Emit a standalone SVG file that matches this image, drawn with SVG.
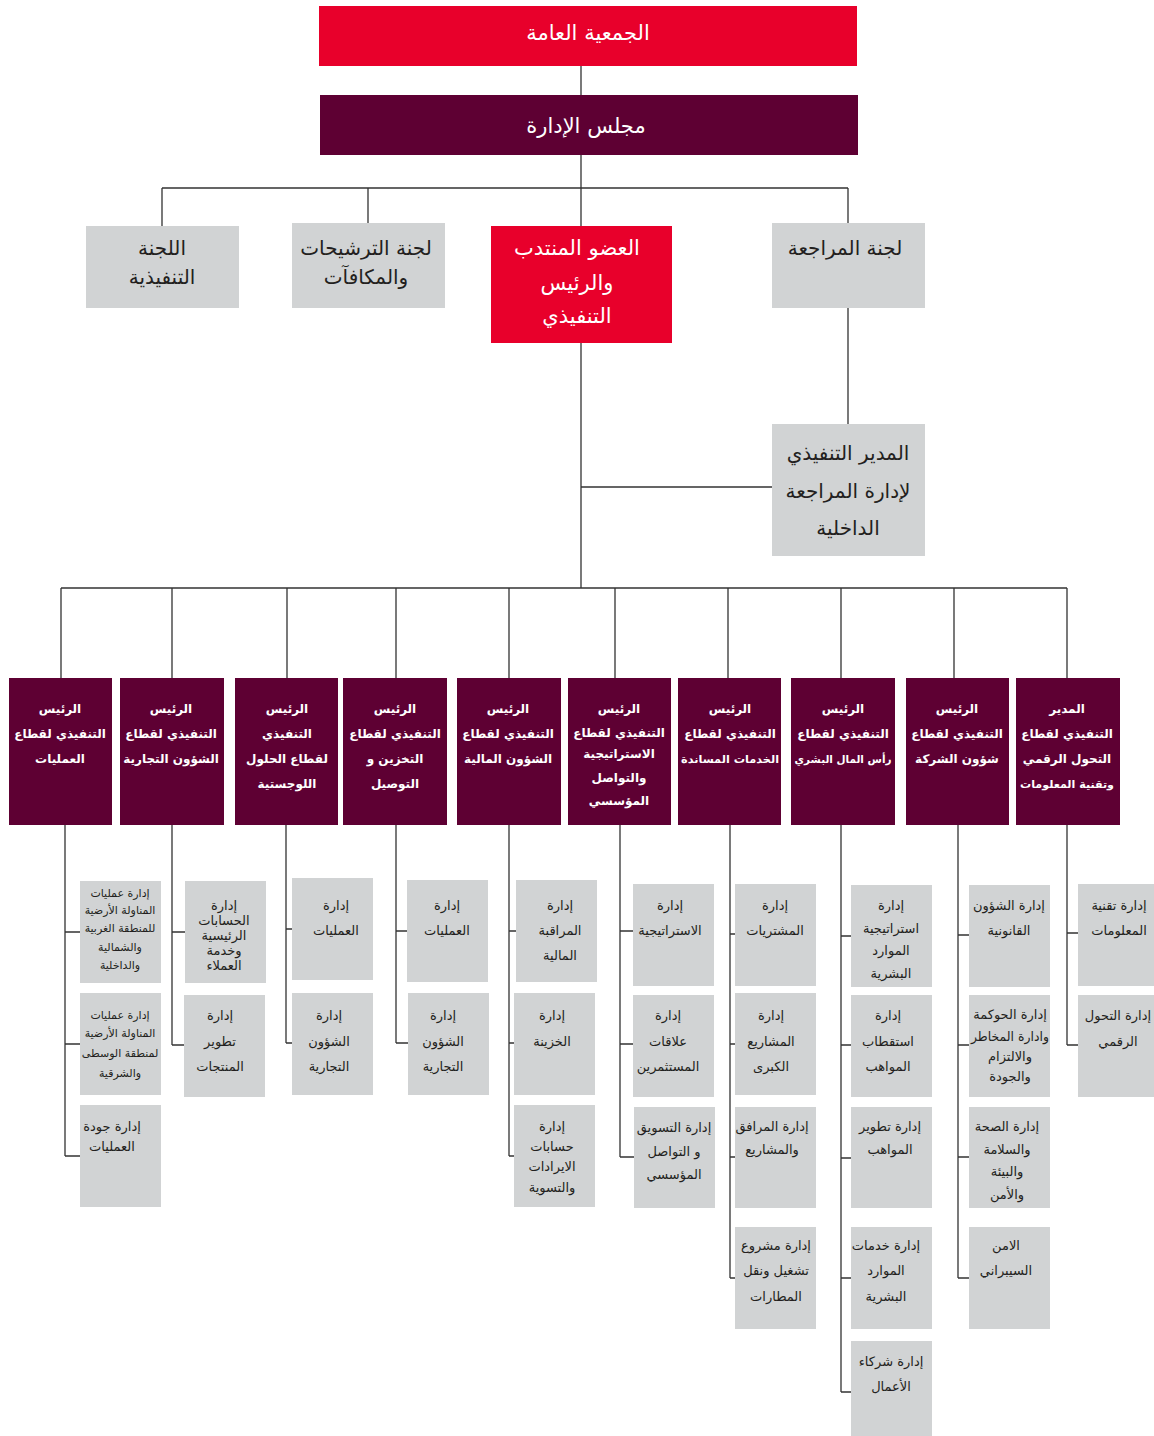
<svg xmlns="http://www.w3.org/2000/svg" width="1154" height="1436" viewBox="0 0 1154 1436">
<style>
text{font-family:"DejaVu Sans","Noto Sans",sans-serif;text-anchor:middle;direction:rtl}
.red{fill:#e8002b}.mar{fill:#5e0033}.gry{fill:#d1d3d4}
.tw{fill:#ffffff;font-size:21px}
.tg{fill:#231f20;font-size:20px}
.te{fill:#ffffff;font-size:12px;font-weight:bold}
.sm{font-size:10.8px}
.ts{fill:#231f20;font-size:13px}
.tss{fill:#231f20;font-size:11px}
.ln{stroke:#333333;stroke-width:1.3;fill:none}
</style>
<g id="connectors" class="ln">
<path d="M581 66V95M581 155V188M162 188H848M162 188V226M368 188V223M581 188V226M848 188V223"/>
<path d="M848 308V424M581 343V588M581 487H772"/>
<path d="M61 588H1067M61 588V678M172 588V678M287 588V678M396 588V678M509 588V678M615 588V678M728 588V678M841 588V678M954 588V678M1067 588V678"/>
<path d="M65 825V1156M65 932H80M65 1044H80M65 1156H80"/>
<path d="M172 825V1045M172 932H185M172 1045H184"/>
<path d="M286 825V1043M286 929H292M286 1043H292"/>
<path d="M396 825V1043M396 931H407M396 1043H408"/>
<path d="M509 825V1156M509 931H516M509 1043H514M509 1156H514"/>
<path d="M620 825V1157M620 931H633M620 1044H633M620 1157H634"/>
<path d="M730 825V1278M730 934H735M730 1044H735M730 1157H735M730 1278H735"/>
<path d="M841 825V1392M841 936H851M841 1045H851M841 1158H851M841 1278H851M841 1392H851"/>
<path d="M958 825V1278M958 935H969M958 1045H969M958 1157H969M958 1278H969"/>
<path d="M1067 825V1045M1067 933H1078M1067 1045H1078"/>
</g>
<g id="general-assembly"><rect class="red" x="319" y="6" width="538" height="60"/><text class="tw" x="588" y="40">الجمعية العامة</text></g>
<g id="board"><rect class="mar" x="320" y="95" width="538" height="60"/><text class="tw" x="586" y="133">مجلس الإدارة</text></g>
<g id="exec-committee"><rect class="gry" x="86" y="226" width="153" height="82"/><text class="tg" x="162" y="255">اللجنة</text><text class="tg" x="162" y="284">التنفيذية</text></g>
<g id="nominations"><rect class="gry" x="292" y="223" width="153" height="85"/><text class="tg" x="366" y="255">لجنة الترشيحات</text><text class="tg" x="366" y="284">والمكافآت</text></g>
<g id="ceo"><rect class="red" x="491" y="226" width="181" height="117"/><text class="tw" x="577" y="255">العضو المنتدب</text><text class="tw" x="577" y="290">والرئيس</text><text class="tw" x="577" y="323">التنفيذي</text></g>
<g id="audit"><rect class="gry" x="772" y="223" width="153" height="85"/><text class="tg" x="845" y="255">لجنة المراجعة</text></g>
<g id="internal-audit"><rect class="gry" x="772" y="424" width="153" height="132"/><text class="tg" x="848" y="460">المدير التنفيذي</text><text class="tg" x="848" y="498">لإدارة المراجعة</text><text class="tg" x="848" y="535">الداخلية</text></g>

<g id="e1"><rect class="mar" x="9" y="678" width="103" height="147"/><text class="te" x="60" y="713">الرئيس</text><text class="te" x="60" y="738">التنفيذي لقطاع</text><text class="te" x="60" y="763">العمليات</text></g>
<g id="e2"><rect class="mar" x="120" y="678" width="104" height="147"/><text class="te" x="171" y="713">الرئيس</text><text class="te" x="171" y="738">التنفيذي لقطاع</text><text class="te" x="171" y="763">الشؤون التجارية</text></g>
<g id="e3"><rect class="mar" x="235" y="678" width="103" height="147"/><text class="te" x="287" y="713">الرئيس</text><text class="te" x="287" y="738">التنفيذي</text><text class="te" x="287" y="763">لقطاع الحلول</text><text class="te" x="287" y="788">اللوجستية</text></g>
<g id="e4"><rect class="mar" x="343" y="678" width="104" height="147"/><text class="te" x="395" y="713">الرئيس</text><text class="te" x="395" y="738">التنفيذي لقطاع</text><text class="te" x="395" y="763">التخزين و</text><text class="te" x="395" y="788">التوصيل</text></g>
<g id="e5"><rect class="mar" x="457" y="678" width="104" height="147"/><text class="te" x="508" y="713">الرئيس</text><text class="te" x="508" y="738">التنفيذي لقطاع</text><text class="te" x="508" y="763">الشؤون المالية</text></g>
<g id="e6"><rect class="mar" x="568" y="678" width="103" height="147"/><text class="te" x="619" y="713">الرئيس</text><text class="te" x="619" y="737">التنفيذي لقطاع</text><text class="te" x="619" y="758">الاستراتيجية</text><text class="te" x="619" y="782">والتواصل</text><text class="te" x="619" y="805">المؤسسي</text></g>
<g id="e7"><rect class="mar" x="678" y="678" width="103" height="147"/><text class="te" x="730" y="713">الرئيس</text><text class="te" x="730" y="738">التنفيذي لقطاع</text><text class="te sm" x="730" y="763" textLength="98" lengthAdjust="spacingAndGlyphs">الخدمات المساندة</text></g>
<g id="e8"><rect class="mar" x="791" y="678" width="104" height="147"/><text class="te" x="843" y="713">الرئيس</text><text class="te" x="843" y="738">التنفيذي لقطاع</text><text class="te sm" x="843" y="763" textLength="97" lengthAdjust="spacingAndGlyphs">رأس المال البشري</text></g>
<g id="e9"><rect class="mar" x="906" y="678" width="103" height="147"/><text class="te" x="957" y="713">الرئيس</text><text class="te" x="957" y="738">التنفيذي لقطاع</text><text class="te" x="957" y="763">شؤون الشركة</text></g>
<g id="e10"><rect class="mar" x="1016" y="678" width="104" height="147"/><text class="te" x="1067" y="713">المدير</text><text class="te" x="1067" y="738">التنفيذي لقطاع</text><text class="te" x="1067" y="763">التحول الرقمي</text><text class="te sm" x="1067" y="788" textLength="94" lengthAdjust="spacingAndGlyphs">وتقنية المعلومات</text></g>

<g id="d1a"><rect class="gry" x="80" y="881" width="81" height="102"/><text class="tss" x="120" y="897">إدارة عمليات</text><text class="tss" x="120" y="914">المناولة الأرضية</text><text class="tss" x="120" y="932">للمنطقة الغربية</text><text class="tss" x="120" y="951">والشمالية</text><text class="tss" x="120" y="969">والداخلية</text></g>
<g id="d1b"><rect class="gry" x="80" y="993" width="81" height="102"/><text class="tss" x="120" y="1019">إدارة عمليات</text><text class="tss" x="120" y="1037">المناولة الأرضية</text><text class="tss" x="120" y="1057">لمنطقة الوسطى</text><text class="tss" x="120" y="1077">والشرقية</text></g>
<g id="d1c"><rect class="gry" x="80" y="1105" width="81" height="102"/><text class="ts" x="112" y="1131">إدارة جودة</text><text class="ts" x="112" y="1151">العمليات</text></g>
<g id="d2a"><rect class="gry" x="185" y="881" width="81" height="102"/><text class="ts" x="224" y="910">إدارة</text><text class="ts" x="224" y="925">الحسابات</text><text class="ts" x="224" y="940">الرئيسية</text><text class="ts" x="224" y="955">وخدمة</text><text class="ts" x="224" y="970">العملاء</text></g>
<g id="d2b"><rect class="gry" x="184" y="995" width="81" height="102"/><text class="ts" x="220" y="1020">إدارة</text><text class="ts" x="220" y="1046">تطوير</text><text class="ts" x="220" y="1071">المنتجات</text></g>
<g id="d3a"><rect class="gry" x="292" y="878" width="81" height="102"/><text class="ts" x="336" y="910">إدارة</text><text class="ts" x="336" y="935">العمليات</text></g>
<g id="d3b"><rect class="gry" x="292" y="993" width="81" height="102"/><text class="ts" x="329" y="1020">إدارة</text><text class="ts" x="329" y="1046">الشؤون</text><text class="ts" x="329" y="1071">التجارية</text></g>
<g id="d4a"><rect class="gry" x="407" y="880" width="81" height="102"/><text class="ts" x="447" y="910">إدارة</text><text class="ts" x="447" y="935">العمليات</text></g>
<g id="d4b"><rect class="gry" x="408" y="993" width="81" height="102"/><text class="ts" x="443" y="1020">إدارة</text><text class="ts" x="443" y="1046">الشؤون</text><text class="ts" x="443" y="1071">التجارية</text></g>
<g id="d5a"><rect class="gry" x="516" y="880" width="81" height="102"/><text class="ts" x="560" y="910">إدارة</text><text class="ts" x="560" y="935">المراقبة</text><text class="ts" x="560" y="960">المالية</text></g>
<g id="d5b"><rect class="gry" x="514" y="993" width="81" height="102"/><text class="ts" x="552" y="1020">إدارة</text><text class="ts" x="552" y="1046">الخزينة</text></g>
<g id="d5c"><rect class="gry" x="514" y="1105" width="81" height="102"/><text class="ts" x="552" y="1131">إدارة</text><text class="ts" x="552" y="1151">حسابات</text><text class="ts" x="552" y="1171">الايرادات</text><text class="ts" x="552" y="1192">والتسوية</text></g>
<g id="d6a"><rect class="gry" x="633" y="884" width="81" height="102"/><text class="ts" x="670" y="910">إدارة</text><text class="ts" x="670" y="935">الاستراتيجية</text></g>
<g id="d6b"><rect class="gry" x="633" y="995" width="81" height="102"/><text class="ts" x="668" y="1020">إدارة</text><text class="ts" x="668" y="1046">علاقات</text><text class="ts" x="668" y="1071">المستثمرين</text></g>
<g id="d6c"><rect class="gry" x="634" y="1107" width="81" height="101"/><text class="ts" x="674" y="1132">إدارة التسويق</text><text class="ts" x="674" y="1156">و التواصل</text><text class="ts" x="674" y="1179">المؤسسي</text></g>
<g id="d7a"><rect class="gry" x="735" y="884" width="81" height="102"/><text class="ts" x="775" y="910">إدارة</text><text class="ts" x="775" y="935">المشتريات</text></g>
<g id="d7b"><rect class="gry" x="735" y="993" width="81" height="102"/><text class="ts" x="771" y="1020">إدارة</text><text class="ts" x="771" y="1046">المشاريع</text><text class="ts" x="771" y="1071">الكبرى</text></g>
<g id="d7c"><rect class="gry" x="735" y="1107" width="81" height="101"/><text class="ts" x="772" y="1131">إدارة المرافق</text><text class="ts" x="772" y="1154">والمشاريع</text></g>
<g id="d7d"><rect class="gry" x="735" y="1227" width="81" height="102"/><text class="ts" x="776" y="1250">إدارة مشروع</text><text class="ts" x="776" y="1275">تشغيل ونقل</text><text class="ts" x="776" y="1301">المطارات</text></g>
<g id="d8a"><rect class="gry" x="851" y="885" width="81" height="102"/><text class="ts" x="891" y="910">إدارة</text><text class="ts" x="891" y="933">استراتيجية</text><text class="ts" x="891" y="955">الموارد</text><text class="ts" x="891" y="978">البشرية</text></g>
<g id="d8b"><rect class="gry" x="851" y="995" width="81" height="102"/><text class="ts" x="888" y="1020">إدارة</text><text class="ts" x="888" y="1046">استقطاب</text><text class="ts" x="888" y="1071">المواهب</text></g>
<g id="d8c"><rect class="gry" x="851" y="1107" width="81" height="101"/><text class="ts" x="890" y="1131">إدارة تطوير</text><text class="ts" x="890" y="1154">المواهب</text></g>
<g id="d8d"><rect class="gry" x="851" y="1227" width="81" height="102"/><text class="ts" x="886" y="1250">إدارة خدمات</text><text class="ts" x="886" y="1275">الموارد</text><text class="ts" x="886" y="1301">البشرية</text></g>
<g id="d8e"><rect class="gry" x="851" y="1341" width="81" height="95"/><text class="ts" x="891" y="1366">إدارة شركاء</text><text class="ts" x="891" y="1391">الأعمال</text></g>
<g id="d9a"><rect class="gry" x="969" y="885" width="81" height="102"/><text class="ts" x="1009" y="910">إدارة الشؤون</text><text class="ts" x="1009" y="935">القانونية</text></g>
<g id="d9b"><rect class="gry" x="969" y="995" width="81" height="102"/><text class="ts" x="1010" y="1019">إدارة الحوكمة</text><text class="ts" x="1010" y="1041" textLength="78" lengthAdjust="spacingAndGlyphs">وادارة المخاطر</text><text class="ts" x="1010" y="1061">والالتزام</text><text class="ts" x="1010" y="1081">والجودة</text></g>
<g id="d9c"><rect class="gry" x="969" y="1107" width="81" height="101"/><text class="ts" x="1007" y="1131">إدارة الصحة</text><text class="ts" x="1007" y="1154">والسلامة</text><text class="ts" x="1007" y="1176">والبيئة</text><text class="ts" x="1007" y="1199">والأمن</text></g>
<g id="d9d"><rect class="gry" x="969" y="1227" width="81" height="102"/><text class="ts" x="1006" y="1250">الامن</text><text class="ts" x="1006" y="1275">السيبراني</text></g>
<g id="d10a"><rect class="gry" x="1078" y="884" width="76" height="102"/><text class="ts" x="1119" y="910">إدارة تقنية</text><text class="ts" x="1119" y="935">المعلومات</text></g>
<g id="d10b"><rect class="gry" x="1078" y="995" width="76" height="102"/><text class="ts" x="1118" y="1020">إدارة التحول</text><text class="ts" x="1118" y="1046">الرقمي</text></g>
</svg>
